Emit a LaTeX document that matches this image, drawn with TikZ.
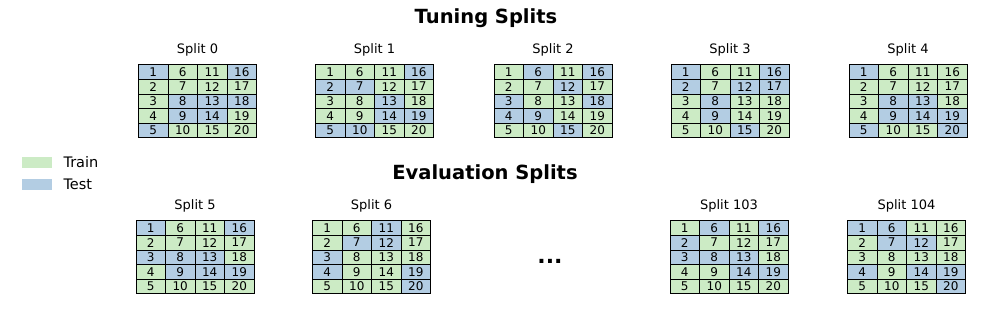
\documentclass[tikz,border=0pt]{standalone}
\usepackage{fontspec}
\setmainfont{DejaVu Sans}
\definecolor{trainc}{HTML}{CCEBC5}
\definecolor{testc}{HTML}{B3CDE3}
\tikzset{
  cell/.style={draw=black,line width=0.8pt,minimum width=29.5pt,minimum height=14.6pt,
    inner sep=0pt,font=\fontsize{12}{13}\selectfont},
  traincell/.style={fill=trainc},
  testcell/.style={fill=testc},
  splitlabel/.style={font=\fontsize{13}{15}\selectfont},
  legendlabel/.style={font=\fontsize{14.5}{16}\selectfont,anchor=west},
  rowtitle/.style={font=\fontsize{19.5}{22}\selectfont\bfseries},
  legendbox/.style={minimum width=30pt,minimum height=11pt,inner sep=0pt},
}
\makeatletter
% #1 name, #2 left, #3 top, #4 label, #5 test cells
\newcommand\splitgrid[5]{%
  \node[splitlabel] (#1-lab) at (#2+59,#3-15) {#4};
  \foreach \c in {1,...,20}{%
    \pgfmathtruncatemacro\col{(\c-1)/5}%
    \pgfmathtruncatemacro\row{mod(\c-1,5)}%
    \edef\tmp{\noexpand\in@{,\c,}{,#5,}}\tmp
    \ifin@\def\kind{testcell}\else\def\kind{traincell}\fi
    \node[cell,\kind] (#1-\c) at ({#2+14.75+29.5*\col},{#3+7.3+14.6*\row}) {\c};
  }%
}
\makeatother
\begin{document}
\begin{tikzpicture}[x=1pt,y=-1pt]
  \useasboundingbox (0,0) rectangle (996,313);
  \node[rowtitle] (tuning) at (486,18) {Tuning Splits};
  \node[rowtitle] (evaluation) at (485,174) {Evaluation Splits};
  % tuning row
  \splitgrid{s0}{138.5}{64.7}{Split 0}{1,5,8,9,13,14,16,18}
  \splitgrid{s1}{315.5}{64.7}{Split 1}{2,5,7,10,13,14,16,19}
  \splitgrid{s2}{494}{64.7}{Split 2}{3,4,6,9,12,15,16,18}
  \splitgrid{s3}{671}{64.7}{Split 3}{1,2,8,9,12,15,16,17}
  \splitgrid{s4}{849}{64.7}{Split 4}{1,5,8,9,13,14,19,20}
  % evaluation row
  \splitgrid{s5}{136}{220.7}{Split 5}{1,3,8,9,13,14,16,19}
  \splitgrid{s6}{312.5}{220.7}{Split 6}{3,4,7,11,12,19,20}
  \splitgrid{s103}{670}{220.7}{Split 103}{2,3,6,8,13,14,16,19}
  \splitgrid{s104}{847.5}{220.7}{Split 104}{1,4,6,7,12,14,19,20}
  \node[font=\fontsize{22}{24}\selectfont\bfseries] (dots) at (550,261) {...};
  % legend
  \node[legendbox,fill=trainc] (trainbox) at (37,162) {};
  \node[legendbox,fill=testc] (testbox) at (37,184) {};
  \node[legendlabel] (trainlab) at (60,162) {Train};
  \node[legendlabel] (testlab) at (60,184) {Test};
\end{tikzpicture}
\end{document}
